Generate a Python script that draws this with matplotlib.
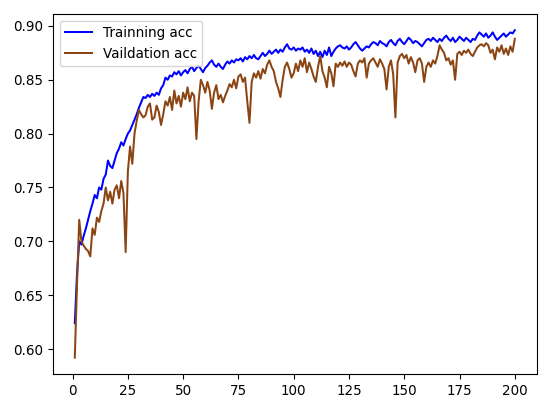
import matplotlib
matplotlib.use('Agg')
import matplotlib.pyplot as plt

epochs = list(range(1, 201))

train_acc = [
    0.624, 0.670, 0.700, 0.697, 0.705, 0.712, 0.720, 0.728, 0.735, 0.743,
    0.740, 0.750, 0.748, 0.758, 0.762, 0.775, 0.770, 0.768, 0.775, 0.782,
    0.786, 0.792, 0.789, 0.795, 0.800, 0.803, 0.808, 0.813, 0.818, 0.824,
    0.829, 0.834, 0.833, 0.836, 0.834, 0.837, 0.835, 0.838, 0.836, 0.842,
    0.845, 0.852, 0.850, 0.854, 0.853, 0.857, 0.855, 0.858, 0.854, 0.857,
    0.859, 0.856, 0.860, 0.862, 0.858, 0.861, 0.863, 0.860, 0.857, 0.861,
    0.863, 0.866, 0.868, 0.864, 0.862, 0.865, 0.862, 0.860, 0.864, 0.867,
    0.865, 0.868, 0.866, 0.869, 0.868, 0.870, 0.867, 0.871, 0.869, 0.872,
    0.870, 0.873, 0.870, 0.869, 0.872, 0.875, 0.872, 0.874, 0.877, 0.874,
    0.876, 0.878, 0.875, 0.878, 0.876, 0.880, 0.883, 0.879, 0.878, 0.880,
    0.877, 0.879, 0.878, 0.880, 0.876, 0.878, 0.875, 0.879, 0.874, 0.877,
    0.872, 0.876, 0.871, 0.877, 0.873, 0.880, 0.872, 0.876, 0.879, 0.881,
    0.882, 0.880, 0.879, 0.881, 0.878, 0.880, 0.883, 0.885, 0.882, 0.879,
    0.877, 0.879, 0.881, 0.880, 0.883, 0.885, 0.884, 0.882, 0.886, 0.884,
    0.883, 0.881, 0.885, 0.887, 0.884, 0.882, 0.886, 0.888, 0.885, 0.883,
    0.886, 0.889, 0.887, 0.884, 0.886, 0.885, 0.883, 0.881, 0.884, 0.887,
    0.888, 0.886, 0.889, 0.887, 0.885, 0.888, 0.886, 0.889, 0.891, 0.888,
    0.886, 0.889, 0.885, 0.887, 0.890, 0.888, 0.886, 0.889, 0.887, 0.885,
    0.888, 0.887, 0.891, 0.894, 0.892, 0.890, 0.893, 0.889, 0.891, 0.894,
    0.890, 0.887, 0.889, 0.891, 0.893, 0.890, 0.892, 0.894, 0.893, 0.896,
]

val_acc = [
    0.592, 0.660, 0.720, 0.700, 0.696, 0.693, 0.691, 0.686, 0.712, 0.706,
    0.722, 0.718, 0.728, 0.735, 0.750, 0.738, 0.746, 0.735, 0.748, 0.752,
    0.740, 0.756, 0.745, 0.690, 0.765, 0.788, 0.772, 0.800, 0.812, 0.822,
    0.818, 0.815, 0.817, 0.825, 0.828, 0.813, 0.815, 0.826, 0.820, 0.808,
    0.818, 0.830, 0.826, 0.834, 0.822, 0.840, 0.828, 0.835, 0.825, 0.838,
    0.832, 0.843, 0.830, 0.838, 0.835, 0.795, 0.830, 0.850, 0.845, 0.838,
    0.848, 0.840, 0.823, 0.838, 0.845, 0.832, 0.836, 0.829, 0.835, 0.840,
    0.846, 0.843, 0.850, 0.842, 0.853, 0.855, 0.848, 0.852, 0.830, 0.810,
    0.848, 0.856, 0.852, 0.858, 0.851, 0.860, 0.856, 0.864, 0.868, 0.862,
    0.858, 0.848, 0.842, 0.834, 0.850, 0.862, 0.866, 0.860, 0.852, 0.856,
    0.865, 0.858, 0.868, 0.862, 0.870, 0.857, 0.866, 0.860, 0.853, 0.848,
    0.862, 0.872, 0.858, 0.852, 0.843, 0.862, 0.856, 0.844, 0.865, 0.862,
    0.866, 0.863, 0.867, 0.862, 0.866, 0.864, 0.858, 0.853, 0.865, 0.868,
    0.866, 0.870, 0.852, 0.865, 0.868, 0.870, 0.866, 0.862, 0.869, 0.865,
    0.860, 0.841, 0.862, 0.868, 0.855, 0.815, 0.866, 0.872, 0.874, 0.870,
    0.873, 0.865, 0.871, 0.866, 0.857, 0.868, 0.870, 0.865, 0.848, 0.862,
    0.866, 0.862, 0.868, 0.865, 0.872, 0.882, 0.878, 0.875, 0.868, 0.870,
    0.864, 0.868, 0.850, 0.874, 0.876, 0.873, 0.877, 0.875, 0.878, 0.874,
    0.872, 0.876, 0.880, 0.882, 0.883, 0.881, 0.884, 0.882, 0.875, 0.878,
    0.869, 0.880, 0.876, 0.882, 0.874, 0.879, 0.873, 0.881, 0.876, 0.888,
]

plt.rcParams['font.size'] = 9.75

fig = plt.figure(figsize=(5.5, 4.07), dpi=100)
ax = fig.add_axes([0.096, 0.081, 0.88, 0.885])
ax.plot(epochs, train_acc, color='b', lw=1.45, label='Trainning acc')
ax.plot(epochs, val_acc, color='#8B4513', lw=1.45, label='Vaildation acc')
ax.set_xticks([0, 25, 50, 75, 100, 125, 150, 175, 200])
ax.set_yticks([0.60, 0.65, 0.70, 0.75, 0.80, 0.85, 0.90])
ax.legend(loc='upper left')

fig.savefig('out.png', dpi=100)
